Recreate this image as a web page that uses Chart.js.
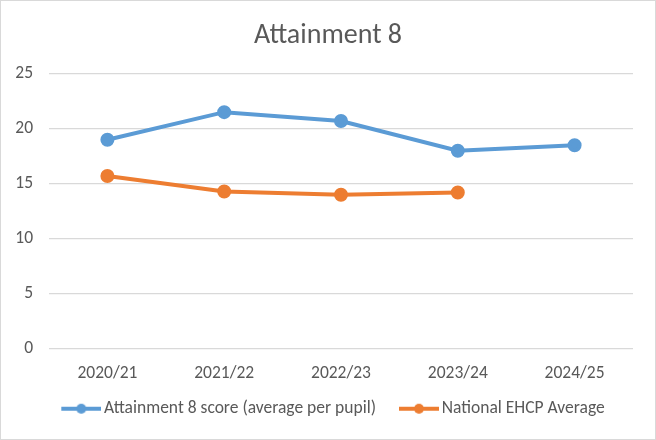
<!DOCTYPE html>
<html>
<head>
<meta charset="utf-8">
<script src="https://cdn.jsdelivr.net/npm/chart.js@4.4.1/dist/chart.umd.min.js"></script>
<style>
  body { margin: 0; background: #fff; }
  #box { width: 654px; height: 438px; border: 1px solid #d9d9d9; }
</style>
</head>
<body>
<div id="box"><canvas id="attainmentChart" width="654" height="438"></canvas></div>
<script>
const years = ["2020/21", "2021/22", "2022/23", "2023/24", "2024/25"];
const schoolScores = [19.0, 21.5, 20.7, 18.0, 18.5];
const nationalEhcp = [15.7, 14.3, 14.0, 14.2, null];
const yTicks = [0, 5, 10, 15, 20, 25];

const fontFamily = 'Carlito, "Liberation Sans Narrow", "Liberation Sans", Arial, sans-serif';
const textColor = "#595959";

// line + dot symbol for the legend, like Excel draws it
// (left part of the image is left blank to give the gap between items)
function legendSymbol(color) {
  const c = document.createElement("canvas");
  c.width = 56;
  c.height = 12;
  const g = c.getContext("2d");
  g.strokeStyle = color;
  g.lineWidth = 4;
  g.beginPath();
  g.moveTo(16, 6);
  g.lineTo(56, 6);
  g.stroke();
  g.fillStyle = color;
  g.beginPath();
  g.arc(36, 6, 5, 0, Math.PI * 2);
  g.fill();
  return c;
}

const ctx = document.getElementById("attainmentChart").getContext("2d");

const attainmentChart = new Chart(ctx, {
  type: "line",
  data: {
    labels: years,
    datasets: [
      {
        label: "Attainment 8 score (average per pupil)",
        data: schoolScores,
        borderColor: "#5B9BD5",
        backgroundColor: "#5B9BD5",
        borderWidth: 4,
        pointRadius: 5,
        pointHoverRadius: 5,
        tension: 0,
      },
      {
        label: "National EHCP Average",
        data: nationalEhcp,
        borderColor: "#ED7D31",
        backgroundColor: "#ED7D31",
        borderWidth: 4,
        pointRadius: 5,
        pointHoverRadius: 5,
        tension: 0,
      },
    ],
  },
  options: {
    responsive: false,
    animation: false,
    layout: { padding: { left: 0, right: 0, top: 0, bottom: 11.5 } },
    plugins: {
      title: {
        display: true,
        text: "Attainment 8",
        color: textColor,
        font: { family: fontFamily, size: 28, weight: "normal" },
        padding: { top: 18, bottom: 21 },
      },
      legend: {
        position: "bottom",
        labels: {
          color: textColor,
          font: { family: fontFamily, size: 17.5 },
          usePointStyle: true,
          pointStyleWidth: 44,
          padding: 13,
          generateLabels: (chart) =>
            chart.data.datasets.map((ds, i) => ({
              text: ds.label,
              fontColor: textColor,
              pointStyle: legendSymbol(ds.borderColor),
              datasetIndex: i,
              hidden: false,
              lineWidth: 0,
            })),
        },
      },
      tooltip: { enabled: false },
    },
    scales: {
      x: {
        offset: true,
        afterFit: (axis) => { axis.height = 38; },
        grid: { display: false, drawTicks: false },
        border: { display: false },
        ticks: {
          color: textColor,
          font: { family: fontFamily, size: 17.5 },
          padding: 14,
          maxRotation: 0,
        },
      },
      y: {
        min: 0,
        max: 25,
        afterFit: (axis) => { axis.width = 48; },
        afterBuildTicks: (axis) => { axis.ticks = yTicks.map((v) => ({ value: v })); },
        grid: { color: "#d9d9d9", lineWidth: 1.3, drawTicks: false },
        border: { display: false },
        ticks: {
          color: textColor,
          font: { family: fontFamily, size: 17.5 },
          padding: 16,
        },
      },
      // empty right-hand axis, only keeps the plot off the right edge
      spacer: {
        position: "right",
        min: 0,
        max: 25,
        afterFit: (axis) => { axis.width = 22; },
        grid: { display: false },
        border: { display: false },
        ticks: { display: false },
      },
    },
  },
});
</script>
</body>
</html>
